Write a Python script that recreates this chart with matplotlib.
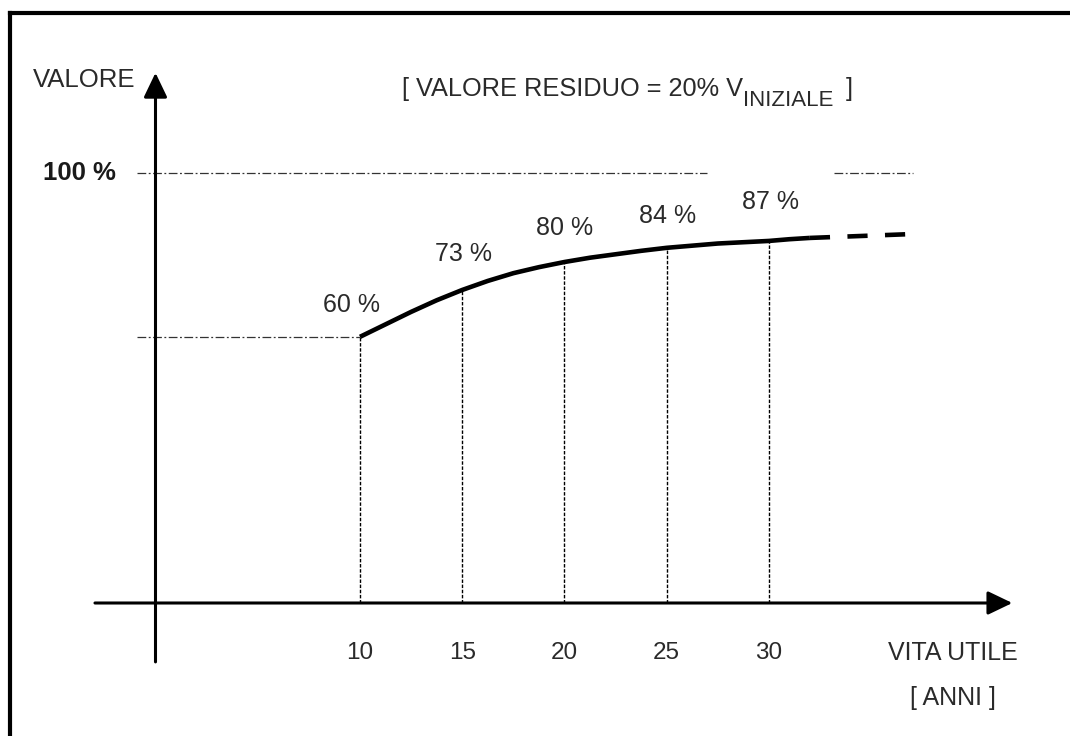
import matplotlib
matplotlib.use("Agg")
import matplotlib.pyplot as plt
from matplotlib.lines import Line2D

plt.rcParams['font.family'] = ['Liberation Sans', 'DejaVu Sans']

# years on the x axis and the value labels above them
years = [10, 15, 20, 25, 30]
value_labels = ['60 %', '73 %', '80 %', '84 %', '87 %']

# curve (percent of initial value)
curve_years = [10, 11.25, 12.5, 13.75, 15, 16.25, 17.5, 18.75, 20, 21.25, 22.5,
               23.75, 25, 26.25, 27.5, 28.75, 30, 31, 32]
curve_vals = [61.9, 64.8, 67.7, 70.4, 72.8, 74.9, 76.7, 78.1, 79.3, 80.3, 81.1,
              81.9, 82.6, 83.1, 83.6, 83.9, 84.2, 84.6, 84.9]
# dashed extension beyond 30 years
ext_years = [32, 37]
ext_vals = [84.9, 85.8]
# curve height at each labelled year
curve_at_years = [61.9, 72.8, 79.3, 82.6, 84.2]

full_value = 100
text_col = '#2a2a2a'

fig = plt.figure(figsize=(10.7, 7.36), dpi=100)
ax = fig.add_axes([0, 0, 1, 1])
ax.set_xlim(-7.604, 44.72)
ax.set_ylim(-30.93, 140.23)
ax.axis('off')

# frame (only top and left edges are inside the picture)
fig.add_artist(Line2D([10 / 1070, 10 / 1070], [-0.1, 1 - 13 / 736], transform=fig.transFigure,
                      color='black', lw=3, solid_capstyle='projecting'))
fig.add_artist(Line2D([10 / 1070, 1.1], [1 - 13 / 736, 1 - 13 / 736], transform=fig.transFigure,
                      color='black', lw=3, solid_capstyle='projecting'))

# axes with arrows
arrow = dict(arrowstyle='-|>,head_length=0.75,head_width=0.36', lw=2.2, color='black',
             shrinkA=0, shrinkB=0, mutation_scale=20)
ax.annotate('', xy=(0, 123.3), xytext=(0, -13.7), arrowprops=arrow)
ax.annotate('', xy=(41.9, 0), xytext=(-2.96, 0), arrowprops=arrow)

# reference lines
dashdot = (0, (7, 2, 1.5, 2))
ax.plot([-0.9, 26.97], [full_value, full_value], color='#333333', lw=0.9, linestyle=dashdot)
ax.plot([33.2, 37.05], [full_value, full_value], color='#333333', lw=0.9, linestyle=dashdot)
ax.plot([-0.9, years[0]], [curve_vals[0], curve_vals[0]], color='#333333', lw=0.9, linestyle=dashdot)

for yr, cv in zip(years, curve_at_years):
    ax.plot([yr, yr], [0, cv], color='black', lw=1.0, linestyle=(0, (2.5, 1.2)))

# curve
ax.plot(curve_years, curve_vals, color='black', lw=3.3, solid_capstyle='butt', solid_joinstyle='round')
ax.plot(ext_years, ext_vals, color='black', lw=3.3, linestyle=(0, (4.4, 3.8)), dash_capstyle='butt')

# labels above the curve
label_y = [69.3, 81.2, 87.2, 90.0, 93.3]
label_dx = [-0.4, 0.05, 0.0, 0.05, 0.05]
for yr, txt, ly, dx in zip(years, value_labels, label_y, label_dx):
    ax.text(yr + dx, ly, txt, ha='center', va='center', fontsize=18, color=text_col)

# tick labels
for yr in years:
    ax.text(yr, -11.6, str(yr), ha='center', va='center', fontsize=17.5, color=text_col)

ax.text(-3.74, 100, '100 %', ha='center', va='center', fontsize=18.5, fontweight='bold', color='#1a1a1a')
ax.text(-1.0, 121.6, 'VALORE', ha='right', va='center', fontsize=18.5, color=text_col)
ax.text(39.0, -11.6, 'VITA UTILE', ha='center', va='center', fontsize=18, color=text_col)
ax.text(39.0, -22.0, '[ ANNI ]', ha='center', va='center', fontsize=18, color=text_col)

# note: [ VALORE RESIDUO = 20% V_INIZIALE ]
ax.text(12.06, 117.9, '[ VALORE RESIDUO = 20% V', ha='left', va='baseline', fontsize=18.3, color=text_col)
ax.text(28.75, 115.6, 'INIZIALE', ha='left', va='baseline', fontsize=16, color=text_col)
ax.text(33.75, 117.9, ']', ha='left', va='baseline', fontsize=18.3, color=text_col)

fig.savefig('out.png', dpi=100)
